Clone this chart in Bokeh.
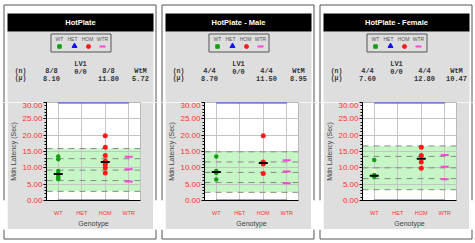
from bokeh.plotting import figure
from bokeh.layouts import row, column
from bokeh.models import (FactorRange, Range1d, BoxAnnotation, Span, Label,
                          FixedTicker, NumeralTickFormatter)
from bokeh.embed import file_html
from bokeh.resources import INLINE

# ---------------- data ----------------
GENOTYPES = ["WT", "HET", "HOM", "WTR"]
TITLES = ["HotPlate", "HotPlate - Male", "HotPlate - Female"]
Y_TICKS = [0, 5, 10, 15, 20, 25, 30]
Y_LIMITS = [0, 30]

WT_VALUES = [[13.5, 12.6, 9.0, 8.2, 8.0, 7.5, 7.0, 6.5],
             [13.5, 9.0, 8.4, 6.4],
             [12.4, 7.8, 7.4, 7.2]]
WT_EXCLUDED = [[], [], [9.0]]
HOM_VALUES = [[19.8, 16.3, 13.8, 12.0, 11.6, 11.0, 10.0, 8.4],
              [19.8, 11.8, 11.2, 8.3],
              [16.3, 13.8, 11.8, 9.9]]
WTR_MARKS = [[13.4, 9.6, 5.8], [12.3, 8.9, 5.3], [13.9, 10.3, 6.5]]
WT_N = ["8/8", "4/4", "4/4"]
HET_N = ["0/0", "0/0", "0/0"]
HOM_N = ["8/8", "4/4", "4/4"]
WT_MEDIAN = [8.10, 8.70, 7.60]
HOM_MEDIAN = [11.80, 11.50, 12.80]
WTM = [5.72, 8.95, 10.47]
BAND_LOW = [2.8, 2.5, 3.3]
BAND_HIGH = [15.9, 14.9, 16.7]
BAND_LINES = [[2.8, 6.1, 9.3, 12.8, 15.9],
              [2.5, 5.5, 8.6, 11.8, 14.9],
              [3.3, 6.7, 10.0, 13.5, 16.7]]

# ---------------- style ----------------
PW = 158          # panel width
HEAD_H = 102      # header height (down to frame top)
PLOT_H = 127      # plot figure height (gray part)
FOOT_H = 14       # white strip at bottom
LEFT_W, RIGHT_W = 7, 5
GRAY = "#dedede"
BORDER = "#555555"
GREEN = "#12a012"
RED = "#ff1a1a"
MAG = "#ff44d6"
BLUE = "#3a3aff"
TICKRED = "#ff3030"
MONO = "Liberation Mono"


def blank(w, h, bg="white"):
    p = figure(width=w, height=h, x_range=Range1d(0, w), y_range=Range1d(h, 0),
               output_backend="svg", toolbar_location=None,
               x_axis_location=None, y_axis_location=None,
               min_border=0, min_border_left=0, min_border_right=0,
               min_border_top=0, min_border_bottom=0,
               background_fill_color=bg, border_fill_color=bg,
               outline_line_color=None)
    p.grid.visible = False
    return p


def txt(p, x, y, text, size, color="#333333", font="Liberation Sans",
        style="normal", align="center"):
    p.add_layout(Label(x=x, y=y, text=text, text_font_size=f"{size}px",
                       text_color=color, text_font=font,
                       text_font_style=style, text_align=align,
                       text_baseline="middle"))


def header(i):
    h = blank(PW, HEAD_H)
    h.quad(left=[7], right=[153], top=[31], bottom=[HEAD_H], fill_color=GRAY,
           line_color=None)
    h.quad(left=[7], right=[153], top=[13], bottom=[31], fill_color="black",
           line_color=None)
    h.segment(x0=[3.5, 155.5, 3.5], y0=[4.5, 4.5, 4.5],
              x1=[3.5, 155.5, 155.5], y1=[HEAD_H, HEAD_H, 4.5],
              line_color=BORDER, line_width=1)
    txt(h, 80, 22, TITLES[i], 7.5, color="white", style="bold")

    # legend
    h.quad(left=[50.5], right=[110.5], top=[33.5], bottom=[51.5],
           fill_color=None, line_color=BORDER, line_width=1)
    for x, name in zip([59, 72, 87, 102], GENOTYPES):
        txt(h, x, 38.5, name, 5, color="#555555")
    h.scatter(x=[59], y=[46], marker="square", size=3.5, color=GREEN)
    h.scatter(x=[74], y=[45.5], marker="triangle", size=5, color="#1010ff")
    h.scatter(x=[88], y=[46], marker="circle", size=4, color=RED)
    h.scatter(x=[102], y=[46], marker="dash", size=6, line_color=MAG,
              line_width=2)

    # stats
    txt(h, 20, 70.5, "(n)", 6.5, font=MONO, style="bold")
    txt(h, 20, 77.5, "(μ)", 6.5, font=MONO, style="bold")
    txt(h, 51, 70.5, WT_N[i], 7, font=MONO, style="bold")
    txt(h, 51, 77.5, f"{WT_MEDIAN[i]:.2f}", 7, font=MONO, style="bold")
    txt(h, 80, 63, "LV1", 7, font=MONO, style="bold")
    txt(h, 80, 71, HET_N[i], 7, font=MONO, style="bold")
    txt(h, 108, 70.5, HOM_N[i], 7, font=MONO, style="bold")
    txt(h, 108, 77.5, f"{HOM_MEDIAN[i]:.2f}", 7, font=MONO, style="bold")
    txt(h, 140, 70.5, "WtM", 7, font=MONO, style="bold")
    txt(h, 140, 77.5, f"{WTM[i]:.2f}", 7, font=MONO, style="bold")
    return h


def side(w, line_x):
    s = blank(w, PLOT_H)
    s.segment(x0=[line_x], y0=[0], x1=[line_x], y1=[PLOT_H],
              line_color=BORDER, line_width=1)
    return s


def footer():
    f = blank(PW, FOOT_H)
    f.segment(x0=[3.5, 155.5, 3.5], y0=[0, 0, 9.5], x1=[3.5, 155.5, 155.5],
              y1=[9.5, 9.5, 9.5], line_color=BORDER, line_width=1)
    return f


def plot(i):
    pw = PW - LEFT_W - RIGHT_W
    p = figure(width=pw, height=PLOT_H, x_range=FactorRange(*GENOTYPES),
               y_range=Range1d(Y_LIMITS[0], Y_LIMITS[1]),
               output_backend="svg", toolbar_location=None,
               min_border_left=36, min_border_right=13,
               min_border_top=0, min_border_bottom=20,
               border_fill_color=GRAY, background_fill_color="white",
               outline_line_color="#b8b8b8")

    p.add_layout(BoxAnnotation(bottom=BAND_LOW[i], top=BAND_HIGH[i],
                               fill_color="#c6f5c6", fill_alpha=1,
                               line_color=None, level="image"))
    for v in BAND_LINES[i]:
        p.add_layout(Span(location=v, dimension="width", line_color="#8a8a8a",
                          line_dash="6 5", line_width=1, level="underlay"))

    p.segment(x0=[GENOTYPES[0]] * 2, x1=[GENOTYPES[-1]] * 2,
              y0=Y_LIMITS, y1=Y_LIMITS, line_color=BLUE, line_width=2)

    p.scatter(x=["WT"] * len(WT_VALUES[i]), y=WT_VALUES[i], size=4.5,
              color=GREEN, line_color=None)
    if WT_EXCLUDED[i]:
        p.scatter(x=["WT"] * len(WT_EXCLUDED[i]), y=WT_EXCLUDED[i], size=4.5,
                  color="#f2f5c8", line_color=None)
    p.scatter(x=["HOM"] * len(HOM_VALUES[i]), y=HOM_VALUES[i], size=5,
              color=RED, line_color=None)
    p.scatter(x=["WTR"] * len(WTR_MARKS[i]), y=WTR_MARKS[i], marker="dash",
              size=8, line_color=MAG, line_width=2)
    p.scatter(x=["WT", "HOM"], y=[WT_MEDIAN[i], HOM_MEDIAN[i]], marker="dash",
              size=9, line_color="black", line_width=2)

    yax = p.yaxis[0]
    yax.ticker = FixedTicker(ticks=Y_TICKS, minor_ticks=list(range(0, 31)))
    yax.formatter = NumeralTickFormatter(format="0.00")
    yax.major_label_text_color = TICKRED
    yax.major_label_text_font = "Liberation Sans"
    yax.major_label_text_font_size = "8px"
    yax.major_label_standoff = 1
    yax.major_tick_out = 3
    yax.major_tick_in = 0
    yax.minor_tick_out = 2
    yax.minor_tick_in = 0
    yax.axis_line_color = "black"
    yax.major_tick_line_color = "black"
    yax.minor_tick_line_color = "black"
    yax.axis_label = "Mdn Latency (Sec)"
    yax.axis_label_text_font = "Liberation Sans"
    yax.axis_label_text_font_size = "7px"
    yax.axis_label_text_font_style = "normal"
    yax.axis_label_standoff = 2

    xax = p.xaxis[0]
    xax.major_tick_line_color = None
    xax.minor_tick_line_color = None
    xax.axis_line_color = "black"
    xax.major_label_text_color = TICKRED
    xax.major_label_text_font = "Liberation Sans"
    xax.major_label_text_font_size = "5.5px"
    xax.major_label_standoff = 3
    xax.axis_label = "Genotype"
    xax.axis_label_text_font = "Liberation Sans"
    xax.axis_label_text_font_size = "7px"
    xax.axis_label_text_font_style = "normal"
    xax.axis_label_standoff = 1

    p.xgrid.grid_line_color = "#c4c4c4"
    p.ygrid.grid_line_color = "#c4c4c4"
    return p


def panel(i):
    return column(header(i),
                  row(side(LEFT_W, 3.5), plot(i), side(RIGHT_W, 2.5)),
                  footer())


layout = row(*[panel(i) for i in range(3)])
open("out.html", "w").write(file_html(layout, INLINE))
